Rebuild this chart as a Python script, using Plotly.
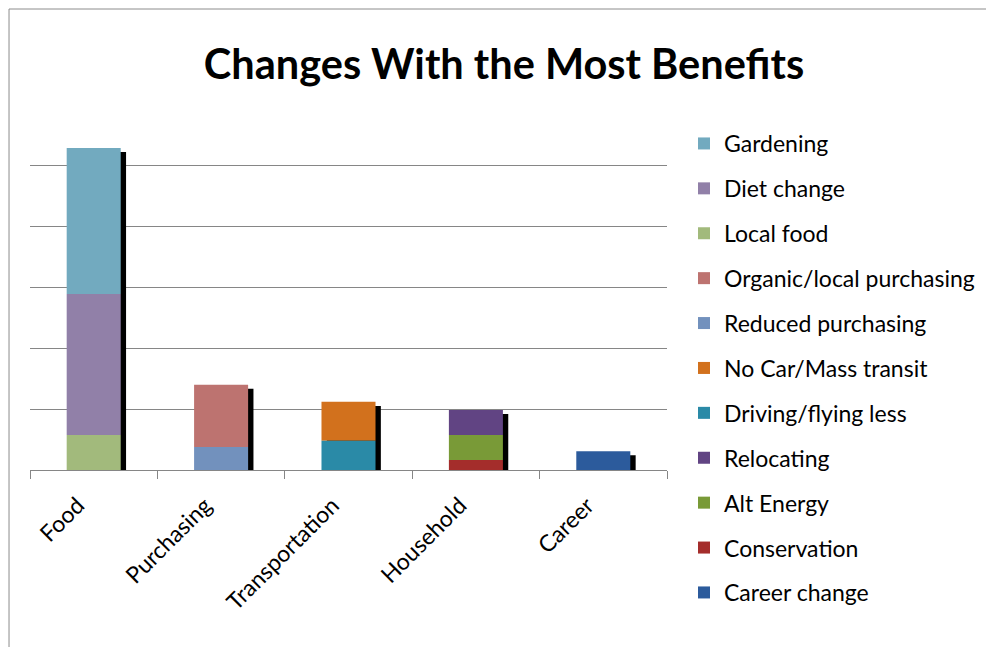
import plotly.graph_objects as go

categories = ["Food", "Purchasing", "Transportation", "Household", "Career"]

# series (legend order) -> (category, value)
series_names = ["Gardening", "Diet change", "Local food",
                "Organic/local purchasing", "Reduced purchasing",
                "No Car/Mass transit", "Driving/flying less",
                "Relocating", "Alt Energy", "Conservation", "Career change"]
series_category = ["Food", "Food", "Food",
                   "Purchasing", "Purchasing",
                   "Transportation", "Transportation",
                   "Household", "Household", "Household", "Career"]
series_values = [24.0, 23.2, 5.75,
                 10.2, 3.8,
                 6.4, 4.8,
                 4.1, 4.1, 1.65, 3.1]
series_colors = ["#72aabf", "#9180a8", "#a2ba7c",
                 "#bd7370", "#7291bd",
                 "#d2711d", "#2a8aa7",
                 "#614483", "#799a37", "#a42d2b", "#2c5b9c"]

BAR_W = 0.424
SHADOW_SHIFT = 0.042
SHADOW_DROP = 0.66

# compute stack bases (bottom-up within each category)
totals = {c: 0.0 for c in categories}
bases = [0.0] * len(series_names)
for i in reversed(range(len(series_names))):
    c = series_category[i]
    bases[i] = totals[c]
    totals[c] += series_values[i]

fig = go.Figure()

# shadow bars
fig.add_trace(go.Bar(
    x=categories, y=[totals[c] - SHADOW_DROP for c in categories],
    width=BAR_W, offset=-BAR_W / 2 + SHADOW_SHIFT,
    marker=dict(color="black", line=dict(width=0)),
    showlegend=False, hoverinfo="skip"))

for i, name in enumerate(series_names):
    fig.add_trace(go.Bar(
        x=[series_category[i]], y=[series_values[i]], base=[bases[i]],
        name=name, width=BAR_W, legendgroup=name,
        marker=dict(color=series_colors[i], line=dict(width=0))))

L, R, T, B = 30, 986 - 667.5, 105, 647 - 470
pw, ph = 637.5, 365

def px(x):
    return (x - L) / pw

def py(y):
    return (470 - y) / ph

fig.update_layout(
    width=986, height=647,
    margin=dict(l=L, r=R, t=T, b=B, autoexpand=False),
    barmode="overlay",
    paper_bgcolor="white", plot_bgcolor="white",
    font=dict(family="Lato, Carlito, sans-serif", color="black"),
    title=dict(text="<b>Changes With the Most Benefits</b>",
               x=504 / 986, xanchor="center", xref="container",
               y=1 - 64 / 647, yanchor="middle", yref="container",
               font=dict(size=41.5, family="Lato, sans-serif", color="black")),
    xaxis=dict(categoryorder="array", categoryarray=categories,
               showline=True, linecolor="#868686", linewidth=1,
               ticks="outside", ticklen=8, tickcolor="#868686",
               tickson="boundaries", tickangle=-45,
               ticklabelshift=-16, ticklabelstandoff=12,
               tickfont=dict(size=23), showgrid=False,
               range=[-0.5, 4.5]),
    yaxis=dict(range=[0, 60], dtick=10, showticklabels=False,
               showgrid=True, gridcolor="#868686", gridwidth=1,
               zeroline=False, showline=False, ticks=""),
    legend=dict(x=684 / 986, y=1 - 122 / 647, xanchor="left", yanchor="top",
                xref="container", yref="container",
                itemwidth=30, maxheight=620,
                font=dict(size=23), tracegroupgap=12,
                bgcolor="rgba(0,0,0,0)"),
    shapes=[dict(type="rect", xref="paper", yref="paper",
                 x0=px(9), x1=px(1100), y0=py(800), y1=py(9),
                 line=dict(color="#8c8c8c", width=1),
                 fillcolor="rgba(0,0,0,0)", layer="below")],
)

fig.write_html("out.html")
